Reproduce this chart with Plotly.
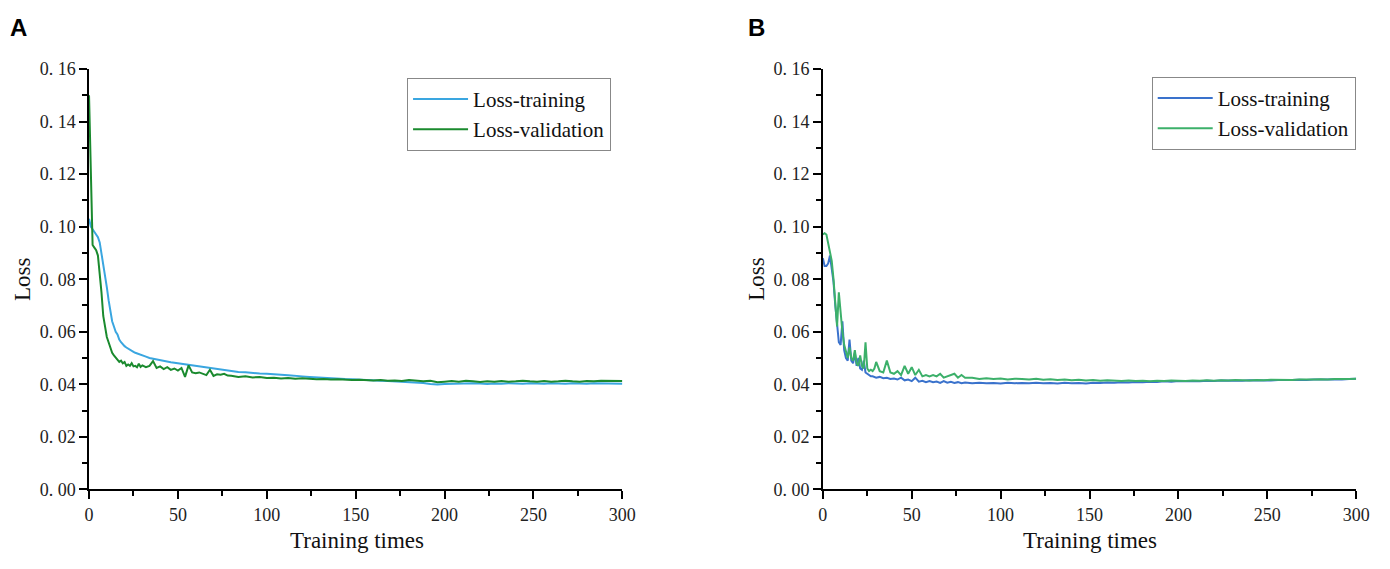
import plotly.graph_objects as go

# ---- data ----
EPOCHS = list(range(0, 31)) + list(range(32, 81, 2)) + list(range(84, 301, 4))

A_TRAIN = [
    0.103, 0.100, 0.099, 0.098, 0.097, 0.096, 0.094, 0.090, 0.085, 0.081,
    0.077, 0.072, 0.068, 0.064, 0.062, 0.060, 0.059, 0.057, 0.056, 0.055,
    0.0545, 0.054, 0.0535, 0.053, 0.0527, 0.0523, 0.052, 0.0517, 0.0514, 0.0512, 0.051,
    0.0505, 0.050, 0.0497, 0.0495, 0.0492, 0.049, 0.0487, 0.0484, 0.0482, 0.048,
    0.0477, 0.0475, 0.0473, 0.047, 0.0468, 0.0467, 0.0464, 0.0463, 0.046, 0.0458,
    0.0457, 0.0454, 0.0453, 0.0451, 0.045,
    0.0447, 0.0446, 0.0443, 0.0441, 0.044, 0.0437, 0.0436, 0.0434, 0.0431, 0.043,
    0.0428, 0.0426, 0.0424, 0.0423, 0.0421, 0.042, 0.0419, 0.0417, 0.0416, 0.0414,
    0.0413, 0.0412, 0.0411, 0.041, 0.0409, 0.0407, 0.0405, 0.0401, 0.0399, 0.0401,
    0.0402, 0.0403, 0.0402, 0.0404, 0.0403, 0.0401, 0.0403, 0.0402, 0.0404, 0.0403,
    0.0402, 0.0404, 0.0403, 0.0402, 0.0404, 0.0403, 0.0402, 0.0404, 0.0403, 0.0402,
    0.0404, 0.0403, 0.0402, 0.0403, 0.0402,
]
A_VALID = [
    0.150, 0.115, 0.093, 0.092, 0.091, 0.089, 0.083, 0.075, 0.066, 0.061,
    0.058, 0.056, 0.054, 0.052, 0.051, 0.050, 0.049, 0.0485, 0.049, 0.048,
    0.0485, 0.047, 0.0475, 0.047, 0.048, 0.0468, 0.047, 0.0465, 0.0478, 0.0466, 0.0472,
    0.0465, 0.047, 0.0488, 0.0462, 0.0468, 0.0458, 0.0465, 0.0455, 0.046, 0.0452,
    0.0462, 0.0428, 0.0472, 0.0445, 0.0442, 0.0445, 0.044, 0.0435, 0.0455, 0.0432,
    0.0438, 0.0436, 0.044, 0.0433, 0.0432,
    0.0428, 0.043, 0.0426, 0.0428, 0.0424, 0.0425, 0.0422, 0.0424, 0.0421, 0.0423,
    0.0421, 0.0419, 0.042, 0.0418, 0.0419, 0.0417, 0.0416, 0.0417, 0.0415, 0.0414,
    0.0416, 0.0413, 0.0414, 0.0412, 0.0416, 0.0413, 0.0411, 0.0413, 0.0408, 0.041,
    0.0412, 0.041, 0.0413, 0.0411, 0.0409, 0.0411, 0.041, 0.0412, 0.041, 0.0411,
    0.0413, 0.0411, 0.041, 0.0412, 0.041, 0.0411, 0.0413, 0.0411, 0.041, 0.0412,
    0.0411, 0.0413, 0.0412, 0.0411, 0.0412,
]
B_TRAIN = [
    0.088, 0.085, 0.085, 0.086, 0.089, 0.083, 0.079, 0.070, 0.064, 0.056,
    0.055, 0.064, 0.053, 0.050, 0.049, 0.057, 0.049, 0.048, 0.052, 0.047,
    0.050, 0.046, 0.0455, 0.049, 0.0445, 0.044, 0.0435, 0.043, 0.043, 0.0428, 0.0425,
    0.0428, 0.0423, 0.0425, 0.042, 0.0422, 0.0418, 0.0425, 0.0415, 0.0418, 0.0412,
    0.0425, 0.041, 0.0413, 0.0408, 0.0412, 0.0408, 0.041, 0.0405, 0.0412, 0.0406,
    0.0409, 0.0405, 0.0408, 0.0404, 0.0407,
    0.0404, 0.0406, 0.0404, 0.0405, 0.0403, 0.0406, 0.0404, 0.0405, 0.0404, 0.0406,
    0.0404, 0.0405, 0.0403, 0.0406, 0.0404, 0.0405, 0.0403, 0.0406, 0.0405, 0.0407,
    0.0406, 0.0408, 0.0407, 0.0409, 0.0408, 0.041, 0.0409, 0.0411, 0.041, 0.0412,
    0.0411, 0.0412, 0.0411, 0.0413, 0.0412, 0.0414, 0.0413, 0.0414, 0.0413, 0.0415,
    0.0414, 0.0415, 0.0414, 0.0416, 0.0415, 0.0416, 0.0417, 0.0416, 0.0418, 0.0417,
    0.0418, 0.0419, 0.0418, 0.042, 0.0421,
]
B_VALID = [
    0.097, 0.0975, 0.097, 0.094, 0.090, 0.087, 0.080, 0.070, 0.062, 0.075,
    0.066, 0.060, 0.055, 0.052, 0.050, 0.054, 0.050, 0.049, 0.053, 0.048,
    0.047, 0.051, 0.047, 0.046, 0.056, 0.046, 0.045, 0.0455, 0.045, 0.046, 0.0485,
    0.045, 0.0445, 0.049, 0.0445, 0.044, 0.045, 0.0435, 0.047, 0.044, 0.0465,
    0.0435, 0.0455, 0.043, 0.0435, 0.043, 0.0435, 0.043, 0.044, 0.0425, 0.043,
    0.0435, 0.044, 0.0425, 0.0435, 0.0425,
    0.0425, 0.042, 0.0423, 0.042, 0.0422, 0.0418, 0.0421, 0.042, 0.0418, 0.0421,
    0.0417, 0.0419, 0.0416, 0.0418, 0.0415, 0.0417, 0.0414, 0.0416, 0.0413, 0.0415,
    0.0413, 0.0412, 0.0414, 0.0412, 0.0413, 0.0411, 0.0413, 0.0412, 0.0414, 0.0413,
    0.0412, 0.0414, 0.0413, 0.0415, 0.0413, 0.0415, 0.0414, 0.0416, 0.0415, 0.0414,
    0.0416, 0.0415, 0.0417, 0.0416, 0.0417, 0.0416, 0.0418, 0.0417, 0.0418, 0.0419,
    0.0418, 0.042, 0.0419, 0.042, 0.0421,
]

Y_TICKS = [0, 0.02, 0.04, 0.06, 0.08, 0.10, 0.12, 0.14, 0.16]
Y_LABELS = ["0. 00", "0. 02", "0. 04", "0. 06", "0. 08", "0. 10", "0. 12", "0. 14", "0. 16"]
X_TICKS = [0, 50, 100, 150, 200, 250, 300]

# colours
A_BLUE = "#3aa6e0"
A_GREEN = "#1a8a2e"
B_BLUE = "#3a72cc"
B_GREEN = "#3cb06a"

SERIF = "Liberation Serif"
# page has an 8px body margin, so the figure is a little smaller than the window
PAD = 8
W, H = 1390 - 2 * PAD, 569 - 2 * PAD


def px_x(p):
    return (p - PAD) / W


def px_y(p):
    return 1 - (p - PAD) / H


fig = go.Figure()

fig.add_trace(go.Scatter(x=EPOCHS, y=A_TRAIN, mode="lines", name="Loss-training",
                         line=dict(color=A_BLUE, width=2), xaxis="x", yaxis="y", legend="legend"))
fig.add_trace(go.Scatter(x=EPOCHS, y=A_VALID, mode="lines", name="Loss-validation",
                         line=dict(color=A_GREEN, width=2), xaxis="x", yaxis="y", legend="legend"))
fig.add_trace(go.Scatter(x=EPOCHS, y=B_TRAIN, mode="lines", name="Loss-training",
                         line=dict(color=B_BLUE, width=2), xaxis="x2", yaxis="y2", legend="legend2"))
fig.add_trace(go.Scatter(x=EPOCHS, y=B_VALID, mode="lines", name="Loss-validation",
                         line=dict(color=B_GREEN, width=2), xaxis="x2", yaxis="y2", legend="legend2"))

xstyle = dict(range=[0, 300], tickvals=X_TICKS, showgrid=False, zeroline=False,
              showline=True, linecolor="black", linewidth=1.5,
              ticks="outside", ticklen=8, tickwidth=1.5, tickcolor="black",
              minor=dict(ticks="outside", ticklen=5, tickwidth=1.5, tickcolor="black", dtick=25, tick0=0),
              tickfont=dict(family=SERIF, size=18, color="#222"))
ystyle = dict(range=[0, 0.16], tickvals=Y_TICKS, ticktext=Y_LABELS, showgrid=False, zeroline=False,
              showline=True, linecolor="black", linewidth=1.5,
              ticks="outside", ticklen=8, tickwidth=1.5, tickcolor="black",
              minor=dict(ticks="outside", ticklen=5, tickwidth=1.5, tickcolor="black", dtick=0.01, tick0=0),
              tickfont=dict(family=SERIF, size=18, color="#222"))

ydom = [px_y(497), px_y(61)]
legstyle = dict(bgcolor="white", bordercolor="#888", borderwidth=1,
                font=dict(family=SERIF, size=21, color="#111"),
                xanchor="left", yanchor="top", tracegroupgap=0, itemwidth=55)

fig.update_layout(
    width=W, height=H,
    margin=dict(l=0, r=0, t=0, b=0),
    paper_bgcolor="white", plot_bgcolor="white",
    xaxis=dict(domain=[px_x(86), px_x(626)], anchor="y", **xstyle),
    yaxis=dict(domain=ydom, anchor="x", **ystyle),
    xaxis2=dict(domain=[px_x(829), px_x(1369)], anchor="y2", **xstyle),
    yaxis2=dict(domain=ydom, anchor="x2", **ystyle),
    legend=dict(x=px_x(408), y=px_y(70), **legstyle),
    legend2=dict(x=px_x(1162), y=px_y(69), **legstyle),
    showlegend=True,
)

# panel letters and axis titles
notes = [
    dict(text="<b>A</b>", x=px_x(4), y=px_y(2), font=dict(family="Liberation Sans", size=24, color="black"),
         xanchor="left", yanchor="top"),
    dict(text="<b>B</b>", x=px_x(751), y=px_y(2), font=dict(family="Liberation Sans", size=24, color="black"),
         xanchor="left", yanchor="top"),
    dict(text="Loss", x=px_x(18), y=px_y(279), textangle=-90, font=dict(family=SERIF, size=23, color="#111"),
         xanchor="center", yanchor="middle"),
    dict(text="Loss", x=px_x(762), y=px_y(279), textangle=-90, font=dict(family=SERIF, size=23, color="#111"),
         xanchor="center", yanchor="middle"),
    dict(text="Training times", x=px_x(357), y=px_y(550), font=dict(family=SERIF, size=23, color="#111"),
         xanchor="center", yanchor="middle"),
    dict(text="Training times", x=px_x(1099), y=px_y(550), font=dict(family=SERIF, size=23, color="#111"),
         xanchor="center", yanchor="middle"),
]
for n in notes:
    fig.add_annotation(xref="paper", yref="paper", showarrow=False, **n)

fig.write_html("out.html")
